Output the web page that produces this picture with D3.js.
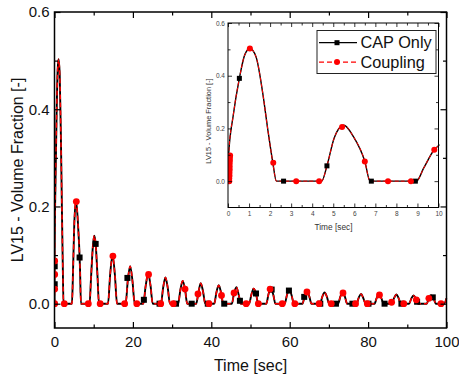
<!DOCTYPE html>
<html>
<head>
<meta charset="utf-8">
<script src="https://cdn.jsdelivr.net/npm/d3@7"></script>
<style>
  html, body { margin: 0; padding: 0; background: #fff; }
  svg { display: block; font-family: "Liberation Sans", Arial, sans-serif; }
</style>
</head>
<body>
<svg id="chart" width="459" height="380"></svg>
<script>
// curve (time in sec, volume fraction); both runs coincide
const timeSec = [
  0, 0.03, 0.25, 0.54, 0.8, 1.04, 1.33, 1.65, 1.89, 2.12, 2.3,
  4.45, 4.7, 5.05, 5.5, 5.95, 6.5, 6.75,
  8.95, 9.3, 9.8, 10.15, 10.5, 10.95, 11.35,
  13.65, 14.2, 14.8, 15.4, 15.95,
  18.15, 18.7, 19.3, 19.9, 20.45,
  22.65, 23.25, 23.9, 24.5, 25.05,
  27.15, 27.7, 28.3, 28.9, 29.45,
  31.55, 32.1, 32.7, 33.3, 33.85,
  36.15, 36.7, 37.3, 37.9, 38.45,
  40.75, 41.3, 41.9, 42.5, 43.05,
  45.25, 45.8, 46.4, 47.0, 47.55,
  49.65, 50.2, 50.8, 51.4, 51.95,
  54.05, 54.6, 55.2, 55.8, 56.35,
  58.75, 59.3, 59.9, 60.5, 61.05,
  63.25, 63.8, 64.4, 65.0, 65.55,
  67.75, 68.3, 68.9, 69.5, 70.05,
  72.35, 72.9, 73.5, 74.1, 74.65,
  77.05, 77.6, 78.2, 78.8, 79.35,
  81.65, 82.2, 82.8, 83.4, 83.95,
  85.95, 86.6, 87.2, 87.8, 88.35,
  90.45, 91.0, 91.6, 92.2, 92.75,
  94.95, 95.5, 96.1, 96.7, 97.25,
  99.4, 100
];
const capOnly = [
  0, 0.1, 0.25, 0.39, 0.48, 0.503, 0.472, 0.334, 0.196, 0.075, 0,
  0, 0.058, 0.165, 0.212, 0.17, 0.075, 0,
  0, 0.05, 0.119, 0.14, 0.123, 0.06, 0,
  0, 0.06, 0.1, 0.06, 0,
  0, 0.048, 0.077, 0.046, 0,
  0, 0.036, 0.062, 0.037, 0,
  0, 0.032, 0.054, 0.032, 0,
  0, 0.028, 0.047, 0.03, 0,
  0, 0.022, 0.042, 0.025, 0,
  0, 0.023, 0.038, 0.022, 0,
  0, 0.022, 0.034, 0.018, 0,
  0, 0.018, 0.031, 0.021, 0,
  0, 0.02, 0.031, 0.019, 0,
  0, 0.018, 0.028, 0.017, 0,
  0, 0.015, 0.025, 0.015, 0,
  0, 0.014, 0.023, 0.014, 0,
  0, 0.014, 0.023, 0.014, 0,
  0, 0.012, 0.02, 0.011, 0,
  0, 0.012, 0.019, 0.011, 0,
  0, 0.011, 0.019, 0.011, 0,
  0, 0.01, 0.017, 0.01, 0,
  0, 0.011, 0.017, 0.012, 0,
  0, 0.011
];
const coupling = capOnly; // dashed red run lies on top of the black one

// symbols on the main plot
const capMarkT = [0.05, 0.05, 6.4, 10.5, 18.6, 22.8, 26.8, 31.0, 35.0, 39.1, 43.3, 47.3, 51.4, 55.4, 59.8, 63.7, 67.8, 71.8, 76.0, 80.1, 84.2, 88.5, 92.5, 96.5];
const capMarkV = [0.04, 0.077, 0.095, 0.123, 0.053, 0.008, 0, 0, 0, 0, 0, 0.006, 0.021, 0.029, 0.027, 0.014, 0, 0, 0, 0, 0, 0, 0.004, 0.013];
const coupMarkT = [0.05, 0.05, 0.05, 0.05, 2.5, 5.57, 8.63, 11.65, 14.9, 17.9, 21.0, 24.0, 27.1, 30.3, 33.3, 36.6, 39.4, 42.6, 45.8, 48.9, 52.0, 55.0, 58.1, 61.3, 64.4, 67.5, 70.6, 73.6, 76.8, 79.8, 82.9, 86.0, 89.1, 92.3, 95.5, 98.6];
const coupMarkV = [0, 0.03, 0.06, 0.088, 0, 0.21, 0, 0, 0.098, 0, 0, 0.06, 0, 0, 0.03, 0.02, 0, 0.017, 0.022, 0, 0, 0.03, 0, 0, 0.024, 0, 0, 0.022, 0, 0, 0.018, 0.003, 0, 0.008, 0.011, 0];

// symbols on the inset (dense red stack at the start)
const insetCapT = [0.54, 2.64, 4.7, 6.81, 8.9];
const insetCapV = [0.39, 0, 0.058, 0, 0];
const insetCoupT = [0.06, 0.06, 0.07, 0.07, 0.08, 0.08, 0.08, 0.09, 0.09, 0.1, 1.04, 2.15, 3.24, 4.33, 5.42, 6.5, 7.6, 8.69, 9.8];
const insetCoupV = [0, 0.01, 0.02, 0.032, 0.043, 0.055, 0.066, 0.077, 0.088, 0.097, 0.503, 0.07, 0, 0, 0.205, 0.075, 0, 0, 0.119];

const seriesNames = ['CAP Only', 'Coupling'];
const yTitle = 'LV15 - Volume Fraction [-]';
const xTitle = 'Time [sec]';

const svg = d3.select('#chart');
const curvePts = timeSec.map((t, i) => [t, capOnly[i], coupling[i]]);

function drawPanel(opts) {
  const { g, x, y, id, lw, tickFont, tickLen, minorLen, xMajor, xMinor, yMajor, yMinor, fmtX, labelColor, sq, rad, dash, marks } = opts;
  const [x0, x1] = x.range();
  const [y0, y1] = y.range(); // y0 bottom, y1 top

  g.append('rect')
    .attr('x', x0).attr('y', y1)
    .attr('width', x1 - x0).attr('height', y0 - y1)
    .attr('fill', '#fff');

  g.append('clipPath').attr('id', id)
    .append('rect')
    .attr('x', x0).attr('y', y1 - 2)
    .attr('width', x1 - x0 + 1).attr('height', y0 - y1 + 2);

  const plot = g.append('g').attr('clip-path', `url(#${id})`);
  const line = d3.line().curve(d3.curveMonotoneX).x(d => x(d[0]));

  plot.append('path')
    .datum(curvePts)
    .attr('fill', 'none').attr('stroke', '#000').attr('stroke-width', lw + 0.4)
    .attr('d', line.y(d => y(d[1])));
  plot.append('path')
    .datum(curvePts)
    .attr('fill', 'none').attr('stroke', '#ff0000').attr('stroke-width', lw)
    .attr('stroke-dasharray', dash)
    .attr('d', line.y(d => y(d[2])));

  plot.selectAll('rect.cap')
    .data(marks.capT.map((t, i) => [t, marks.capV[i]]))
    .join('rect').attr('class', 'cap')
    .attr('x', d => x(d[0]) - sq / 2).attr('y', d => y(d[1]) - sq / 2)
    .attr('width', sq).attr('height', sq).attr('fill', '#000');
  plot.selectAll('circle.coup')
    .data(marks.coupT.map((t, i) => [t, marks.coupV[i]]))
    .join('circle').attr('class', 'coup')
    .attr('cx', d => x(d[0])).attr('cy', d => y(d[1]))
    .attr('r', rad).attr('fill', '#ff0000');

  // axes, ticks pointing inward
  const styleAxis = (sel, showText) => {
    sel.select('.domain').remove();
    sel.selectAll('line').attr('stroke', '#000').attr('stroke-width', lw * 0.8);
    sel.selectAll('text').attr('font-size', tickFont).attr('fill', labelColor);
    if (!showText) sel.selectAll('text').remove();
  };
  const xm = d3.range(x.domain()[0], x.domain()[1] + 1e-9, xMajor);
  const xn = d3.range(x.domain()[0], x.domain()[1] + 1e-9, xMinor).filter(v => !xm.some(m => Math.abs(m - v) < 1e-9));
  const yDom = y.domain();
  const ym = d3.range(0, yDom[1] + 1e-9, yMajor);
  const yn = d3.range(-1, 1, yMinor).map(v => +v.toFixed(3))
    .filter(v => v > yDom[0] + 1e-9 && v < yDom[1] - 1e-9 && !ym.some(m => Math.abs(m - v) < 1e-9));

  g.append('g').attr('transform', `translate(0,${y0})`)
    .call(d3.axisBottom(x).tickValues(xm).tickSize(-tickLen).tickPadding(opts.xPad).tickFormat(fmtX))
    .call(s => styleAxis(s, true));
  g.append('g').attr('transform', `translate(0,${y0})`)
    .call(d3.axisBottom(x).tickValues(xn).tickSize(-minorLen))
    .call(s => styleAxis(s, false));
  g.append('g').attr('transform', `translate(0,${y1})`)
    .call(d3.axisTop(x).tickValues(xm).tickSize(-tickLen))
    .call(s => styleAxis(s, false));
  g.append('g').attr('transform', `translate(0,${y1})`)
    .call(d3.axisTop(x).tickValues(xn).tickSize(-minorLen))
    .call(s => styleAxis(s, false));
  g.append('g').attr('transform', `translate(${x0},0)`)
    .call(d3.axisLeft(y).tickValues(ym).tickSize(-tickLen).tickPadding(opts.yPad).tickFormat(d3.format('.1f')))
    .call(s => styleAxis(s, true));
  g.append('g').attr('transform', `translate(${x0},0)`)
    .call(d3.axisLeft(y).tickValues(yn).tickSize(-minorLen))
    .call(s => styleAxis(s, false));
  g.append('g').attr('transform', `translate(${x1},0)`)
    .call(d3.axisRight(y).tickValues(ym).tickSize(-tickLen))
    .call(s => styleAxis(s, false));
  g.append('g').attr('transform', `translate(${x1},0)`)
    .call(d3.axisRight(y).tickValues(yn).tickSize(-minorLen))
    .call(s => styleAxis(s, false));

  g.append('rect')
    .attr('x', x0).attr('y', y1)
    .attr('width', x1 - x0).attr('height', y0 - y1)
    .attr('fill', 'none').attr('stroke', '#000').attr('stroke-width', lw);
}

// main panel
const xMain = d3.scaleLinear().domain([0, 100]).range([54.5, 446.5]);
const yMain = d3.scaleLinear().domain([-0.05, 0.6]).range([328, 12]);
const gMain = svg.append('g');
drawPanel({
  g: gMain, x: xMain, y: yMain, id: 'clipMain', lw: 1.5,
  tickFont: 15, tickLen: 6, minorLen: 3.5, xMajor: 20, xMinor: 10, yMajor: 0.2, yMinor: 0.1,
  fmtX: d3.format('d'), labelColor: '#111', xPad: 8, yPad: 5, sq: 6, rad: 3.4, dash: '5,3',
  marks: { capT: capMarkT, capV: capMarkV, coupT: coupMarkT, coupV: coupMarkV }
});
svg.append('text')
  .attr('x', 250.5).attr('y', 371)
  .attr('text-anchor', 'middle').attr('font-size', 16).attr('fill', '#111')
  .text(xTitle);
svg.append('text')
  .attr('transform', 'translate(23,170) rotate(-90)')
  .attr('text-anchor', 'middle').attr('font-size', 16).attr('fill', '#111')
  .text(yTitle);

// inset panel
const xIn = d3.scaleLinear().domain([0, 10]).range([228, 438.5]);
const yIn = d3.scaleLinear().domain([-0.1, 0.6]).range([207.5, 23]);
const gIn = svg.append('g');
drawPanel({
  g: gIn, x: xIn, y: yIn, id: 'clipInset', lw: 1,
  tickFont: 6.5, tickLen: 4, minorLen: 2.5, xMajor: 1, xMinor: 0.5, yMajor: 0.2, yMinor: 0.1,
  fmtX: d3.format('d'), labelColor: '#444', xPad: 4, yPad: 3, sq: 5, rad: 3, dash: '4,2',
  marks: { capT: insetCapT, capV: insetCapV, coupT: insetCoupT, coupV: insetCoupV }
});
svg.append('text')
  .attr('x', 333.5).attr('y', 230)
  .attr('text-anchor', 'middle').attr('font-size', 8.3).attr('fill', '#333')
  .text(xTitle);
svg.append('text')
  .attr('transform', 'translate(211,121) rotate(-90)')
  .attr('text-anchor', 'middle').attr('font-size', 7.4).attr('fill', '#333')
  .text(yTitle);

// legend
const legend = svg.append('g');
legend.append('rect')
  .attr('x', 317).attr('y', 30.5).attr('width', 119).attr('height', 43)
  .attr('fill', '#fff').attr('stroke', '#222').attr('stroke-width', 1);
seriesNames.forEach((name, i) => {
  const ly = 42.7 + i * 19.4;
  const row = legend.append('g');
  row.append('line')
    .attr('x1', 319).attr('x2', 357).attr('y1', ly).attr('y2', ly)
    .attr('stroke', i === 0 ? '#000' : '#ff0000').attr('stroke-width', 1.3)
    .attr('stroke-dasharray', i === 0 ? null : '5,3');
  if (i === 0) {
    row.append('rect').attr('x', 334.5).attr('y', ly - 2.5).attr('width', 5).attr('height', 5).attr('fill', '#000');
  } else {
    row.append('circle').attr('cx', 337).attr('cy', ly).attr('r', 3).attr('fill', '#ff0000');
  }
  row.append('text')
    .attr('x', 360.5).attr('y', ly + 5.7)
    .attr('font-size', 16.3).attr('fill', '#111')
    .text(name);
});
</script>
</body>
</html>
